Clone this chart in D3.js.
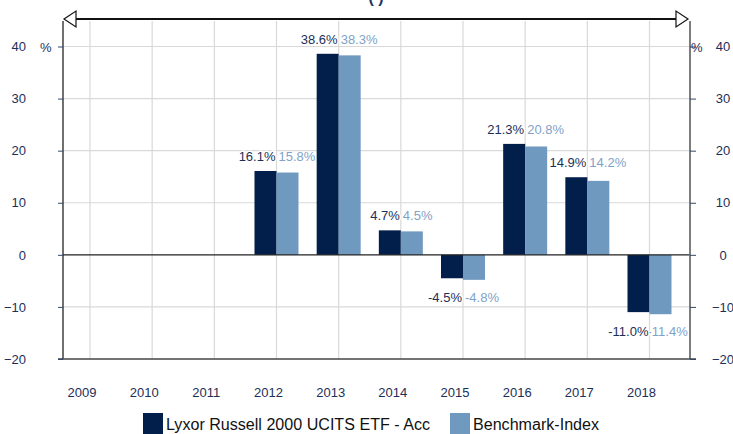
<!DOCTYPE html>
<html>
<head>
<meta charset="utf-8">
<script src="https://cdn.jsdelivr.net/npm/d3@7"></script>
<style>
  body { margin: 0; background: #fff; }
  text { font-family: "Liberation Sans", Arial, sans-serif; }
</style>
</head>
<body>
<div id="chart_div"></div>
<script>
// data
var years = ['2009', '2010', '2011', '2012', '2013', '2014', '2015', '2016', '2017', '2018'];
var fundValues = [null, null, null, 16.1, 38.6, 4.7, -4.5, 21.3, 14.9, -11.0];
var benchValues = [null, null, null, 15.8, 38.3, 4.5, -4.8, 20.8, 14.2, -11.4];
var yTicks = [-20, -10, 0, 10, 20, 30, 40];
var seriesNames = ['Lyxor Russell 2000 UCITS ETF - Acc', 'Benchmark-Index'];

var svg_width = 733,
  svg_height = 434,
  plot_left = 63,
  plot_right = 690,
  plot_top = 21,
  barW = 22,
  darkCol = '#021e4a',
  lightCol = '#7099bf',
  textCol = '#1c2f58',
  lightText = '#7fa2c8';

var svg = d3.select('#chart_div')
  .append('svg')
  .attr('width', svg_width)
  .attr('height', svg_height);

var y = d3.scaleLinear()
  .domain([-20, 40])
  .range([359, 46.5]);

var x = d3.scalePoint()
  .domain(years)
  .range([90, 649.5]);

// grid lines
svg.append('g').selectAll('line')
  .data(yTicks.filter(function (d) { return d != 0 && d != -20; }))
  .enter().append('line')
  .attr('x1', plot_left).attr('x2', plot_right)
  .attr('y1', function (d) { return y(d); })
  .attr('y2', function (d) { return y(d); })
  .attr('stroke', '#d9d9d9')
  .attr('stroke-width', 1.2);

svg.append('g').selectAll('line')
  .data(years)
  .enter().append('line')
  .attr('x1', function (d) { return x(d); })
  .attr('x2', function (d) { return x(d); })
  .attr('y1', plot_top).attr('y2', y(-20))
  .attr('stroke', '#d9d9d9')
  .attr('stroke-width', 1.2);

// bars
var rows = years.map(function (d, i) { return {year: d, fund: fundValues[i], bench: benchValues[i]}; })
  .filter(function (d) { return d.fund != null; });

var bars = svg.append('g');
bars.selectAll('rect.fund')
  .data(rows)
  .enter().append('rect')
  .attr('class', 'fund')
  .attr('x', function (d) { return x(d.year) - barW; })
  .attr('y', function (d) { return y(Math.max(0, d.fund)); })
  .attr('width', barW)
  .attr('height', function (d) { return Math.abs(y(d.fund) - y(0)); })
  .attr('fill', darkCol);

bars.selectAll('rect.bench')
  .data(rows)
  .enter().append('rect')
  .attr('class', 'bench')
  .attr('x', function (d) { return x(d.year); })
  .attr('y', function (d) { return y(Math.max(0, d.bench)); })
  .attr('width', barW)
  .attr('height', function (d) { return Math.abs(y(d.bench) - y(0)); })
  .attr('fill', lightCol);

// zero line
svg.append('line')
  .attr('x1', plot_left).attr('x2', plot_right)
  .attr('y1', y(0)).attr('y2', y(0))
  .attr('stroke', '#222').attr('stroke-width', 1.2);

// axes lines
svg.append('line')
  .attr('x1', plot_left).attr('x2', plot_left)
  .attr('y1', plot_top).attr('y2', y(-20))
  .attr('stroke', '#222').attr('stroke-width', 1.3);
svg.append('line')
  .attr('x1', plot_right).attr('x2', plot_right)
  .attr('y1', plot_top).attr('y2', y(-20))
  .attr('stroke', '#6f6f6f').attr('stroke-width', 1.8);
svg.append('line')
  .attr('x1', 58).attr('x2', 696)
  .attr('y1', y(-20)).attr('y2', y(-20))
  .attr('stroke', '#444').attr('stroke-width', 1.3);

// left and right value axes
var leftAxis = d3.axisLeft(y).tickValues(yTicks).tickSize(5);
var rightAxis = d3.axisRight(y).tickValues(yTicks).tickSize(6);

var gl = svg.append('g')
  .attr('transform', 'translate(' + plot_left + ',0)')
  .call(leftAxis);
var gr = svg.append('g')
  .attr('transform', 'translate(' + plot_right + ',0)')
  .call(rightAxis);
[gl, gr].forEach(function (g) {
  g.select('.domain').remove();
  g.selectAll('line').attr('stroke', '#33466b');
  g.selectAll('text')
    .attr('fill', textCol)
    .style('font-size', '13px')
    .style('font-family', '"Liberation Sans", Arial, sans-serif');
});
gl.selectAll('text').attr('x', -37);
gr.selectAll('text').attr('x', 33).attr('text-anchor', 'middle');

svg.append('text').attr('x', 40).attr('y', y(40) + 5)
  .attr('fill', textCol).style('font-size', '13px').text('%');
svg.append('text').attr('x', 691).attr('y', y(40) + 5)
  .attr('fill', textCol).style('font-size', '13px').text('%');

// year labels
svg.append('g').selectAll('text')
  .data(years)
  .enter().append('text')
  .attr('x', function (d) { return x(d) - 8; })
  .attr('y', 397)
  .attr('text-anchor', 'middle')
  .attr('fill', textCol)
  .style('font-size', '13px')
  .text(function (d) { return d; });

// value labels, both sit at the fund bar's level
function fmt(v) { return v.toFixed(1) + '%'; }
function labelY(v) {
  return v >= 0 ? y(v) - 10 : y(v) + 24;
}
svg.append('g').selectAll('text')
  .data(rows)
  .enter().append('text')
  .attr('x', function (d) { return x(d.year) + (d.bench < -10 ? -2 : 2); })
  .attr('y', function (d) { return labelY(d.fund); })
  .attr('fill', lightText)
  .style('font-size', '13px')
  .text(function (d) { return fmt(d.bench); });
svg.append('g').selectAll('text')
  .data(rows)
  .enter().append('text')
  .attr('x', function (d) { return x(d.year) - 1; })
  .attr('y', function (d) { return labelY(d.fund); })
  .attr('text-anchor', 'end')
  .attr('fill', textCol)
  .attr('stroke', '#fff')
  .attr('stroke-width', 3)
  .attr('paint-order', 'stroke')
  .style('font-size', '13px')
  .text(function (d) { return fmt(d.fund); });

// double arrow on top
var arrowY = 19;
svg.append('line')
  .attr('x1', 70).attr('x2', 682)
  .attr('y1', arrowY).attr('y2', arrowY)
  .attr('stroke', '#111').attr('stroke-width', 2);
svg.append('path')
  .attr('d', 'M64,' + arrowY + ' L76,' + (arrowY - 8) + ' L76,' + (arrowY + 8) + ' Z')
  .attr('fill', '#fff').attr('stroke', '#111').attr('stroke-width', 1.2);
svg.append('path')
  .attr('d', 'M688,' + arrowY + ' L676,' + (arrowY - 8) + ' L676,' + (arrowY + 8) + ' Z')
  .attr('fill', '#fff').attr('stroke', '#111').attr('stroke-width', 1.2);
svg.append('text')
  .attr('x', 376).attr('y', 3)
  .attr('text-anchor', 'middle')
  .attr('fill', '#1f3560')
  .style('font-size', '16px')
  .style('font-weight', 'bold')
  .text('( )');

// legend
var legend = svg.append('g');
var legendX = [143, 450];
[darkCol, lightCol].forEach(function (c, i) {
  legend.append('rect')
    .attr('x', legendX[i]).attr('y', 413)
    .attr('width', 20).attr('height', 21)
    .attr('fill', c);
  legend.append('text')
    .attr('x', legendX[i] + 23).attr('y', 430)
    .attr('fill', '#111')
    .style('font-size', '16px')
    .attr('textLength', i == 0 ? 264 : 126)
    .attr('lengthAdjust', 'spacingAndGlyphs')
    .text(seriesNames[i]);
});
</script>
</body>
</html>
